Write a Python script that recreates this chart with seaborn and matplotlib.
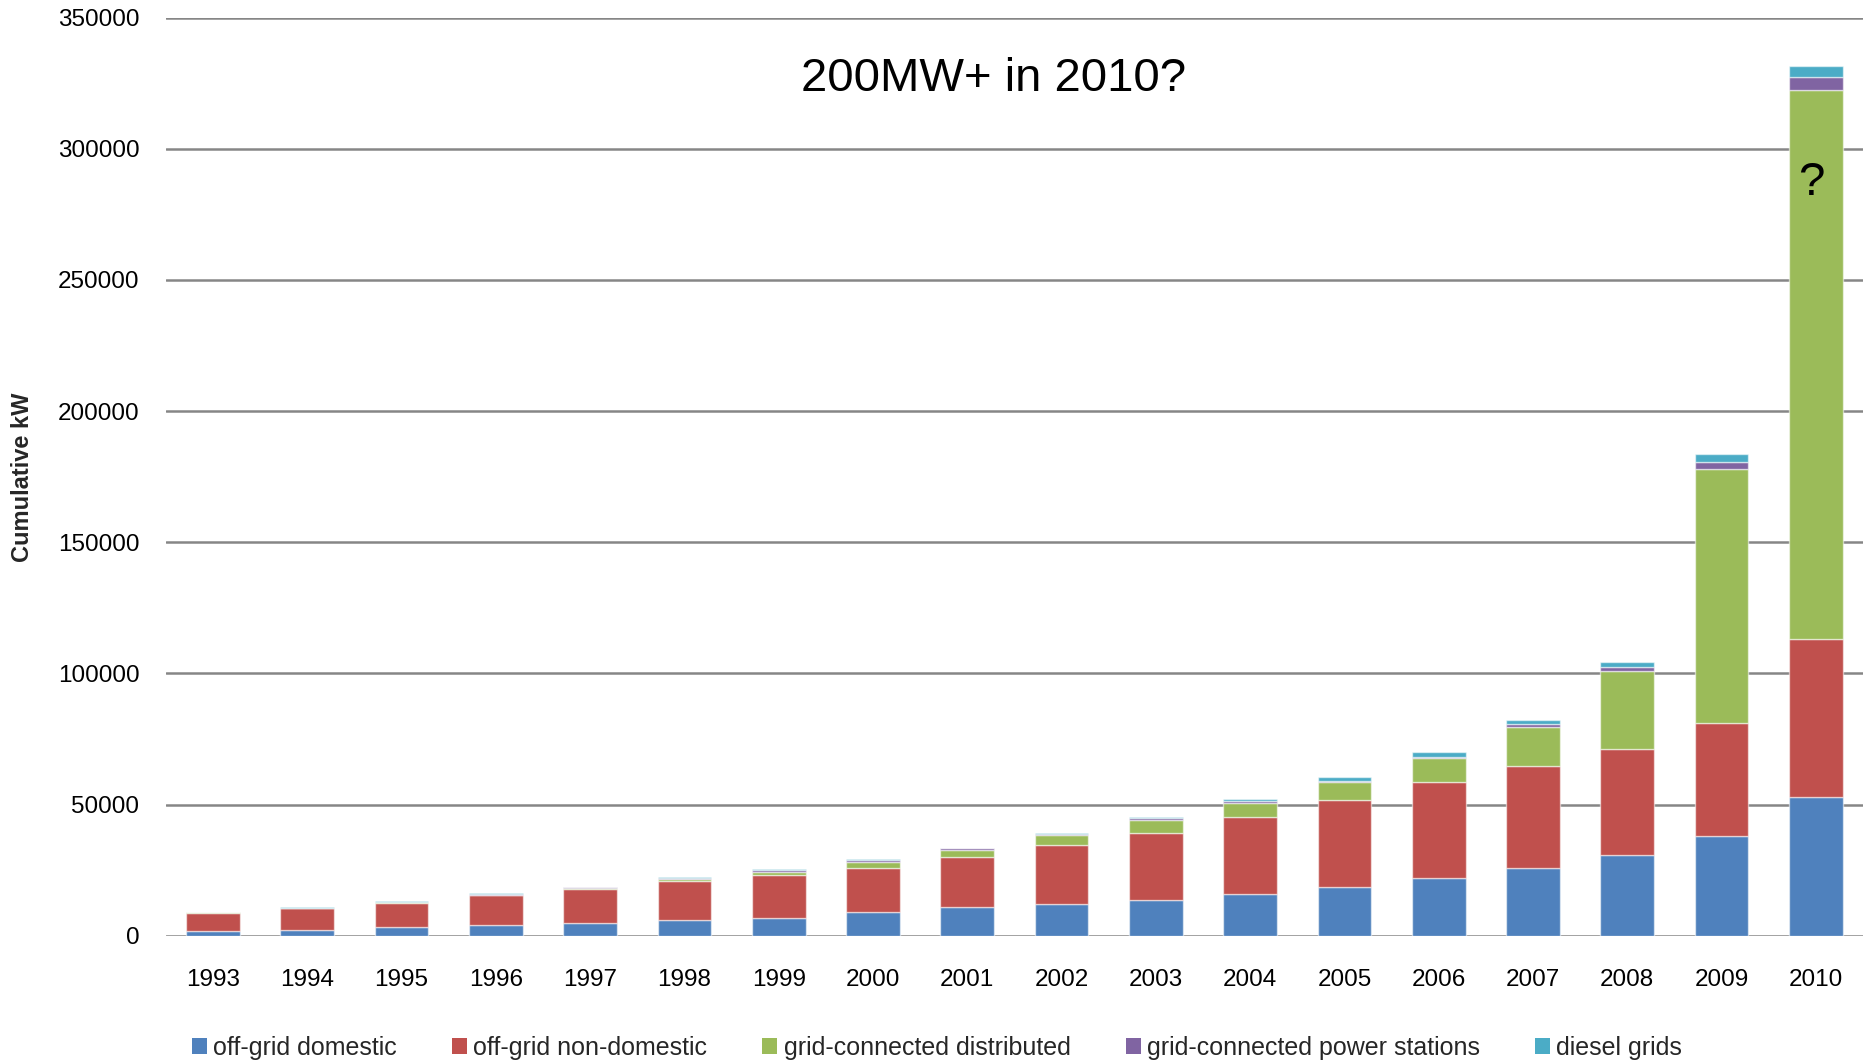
import matplotlib
matplotlib.use("Agg")
import matplotlib.pyplot as plt
from matplotlib import font_manager
from matplotlib.patches import Patch
import pandas as pd
import seaborn as sns

# Cumulative installed capacity (kW) by segment
years = list(range(1993, 2011))
off_grid_domestic = [1900, 2400, 3200, 3950, 4700, 5900, 6600, 8900, 10900,
                     12050, 13600, 15900, 18650, 22200, 25800, 30800, 37900, 53000]
off_grid_non_domestic = [6900, 8200, 9400, 11450, 13300, 15150, 16400, 17000, 19050,
                         22700, 25750, 29550, 33000, 36600, 38800, 40500, 43100, 60250]
grid_connected_distributed = [200, 100, 200, 300, 400, 650, 1500, 2400, 2900,
                              3550, 4950, 5330, 6850, 8800, 15100, 29750, 97100, 209050]
grid_connected_power_stations = [0, 0, 100, 200, 100, 300, 600, 500, 500,
                                 400, 500, 600, 600, 700, 900, 1250, 2400, 5000]
diesel_grids = [100, 100, 200, 300, 200, 450, 300, 350, 260,
                400, 600, 760, 1270, 1800, 1800, 2200, 3050, 4100]

series_names = ["off-grid domestic", "off-grid non-domestic", "grid-connected distributed",
                "grid-connected power stations", "diesel grids"]
series_values = [off_grid_domestic, off_grid_non_domestic, grid_connected_distributed,
                 grid_connected_power_stations, diesel_grids]
series_colors = ["#4F81BD", "#C0504D", "#9BBB59", "#8064A2", "#4BACC6"]

y_ticks = list(range(0, 350001, 50000))

sns.set_theme(style="white")
available = {f.name for f in font_manager.fontManager.ttflist}
narrow = "Liberation Sans Narrow" if "Liberation Sans Narrow" in available else "Liberation Sans"
plt.rcParams["font.family"] = ["Liberation Sans", "DejaVu Sans"]

rows = []
for name, vals in zip(series_names, series_values):
    for yr, v in zip(years, vals):
        rows.append({"year": yr, "series": name, "kW": v})
df = pd.DataFrame(rows)

fig = plt.figure(figsize=(18.63, 10.61), dpi=100)
ax = fig.add_axes([0.089, 0.118, 0.911, 0.8655])

# seaborn stacks the first hue level on top, so pass the order reversed
sns.histplot(data=df, x="year", weights="kW", hue="series",
             hue_order=series_names[::-1],
             palette=dict(zip(series_names, series_colors)),
             multiple="stack", discrete=True, shrink=0.57, alpha=1,
             edgecolor=(1, 1, 1, 0.55), linewidth=1.0, legend=False, ax=ax)

ax.set_xlim(1992.5, 2010.5)
ax.set_ylim(0, 350000)
ax.set_yticks(y_ticks)
ax.set_yticklabels([str(t) for t in y_ticks])
ax.set_xticks(years)
ax.set_xticklabels([str(y) for y in years])
ax.yaxis.grid(True, color="#868686", linewidth=1.8)
ax.xaxis.grid(False)
ax.set_axisbelow(True)
for s in ax.spines.values():
    s.set_visible(False)
ax.tick_params(axis="both", length=0, labelsize=17.5, colors="black")
ax.tick_params(axis="y", pad=19)
ax.tick_params(axis="x", pad=24)
ax.set_xlabel("")
ax.set_ylabel("")

ax.text(0.488, 0.9335, "200MW+ in 2010?", transform=ax.transAxes,
        ha="center", va="center", fontsize=34, color="black")
ax.text(2009.95, 287000, "?", ha="center", va="center", fontsize=34, color="black")

fig.text(0.0123, 0.55, "Cumulative kW", rotation=90, ha="center", va="center",
         fontsize=17, fontweight="bold", family=[narrow, "DejaVu Sans"])

handles = [Patch(facecolor=c, edgecolor="none") for c in series_colors]
fig.legend(handles, series_names, loc="center", bbox_to_anchor=(0.503, 0.0125),
           ncol=5, frameon=False, handlelength=0.6, handleheight=0.6,
           handletextpad=0.25, columnspacing=2.2, borderaxespad=0,
           prop={"family": [narrow, "DejaVu Sans"], "size": 18})

fig.savefig("out.png", dpi=100)
